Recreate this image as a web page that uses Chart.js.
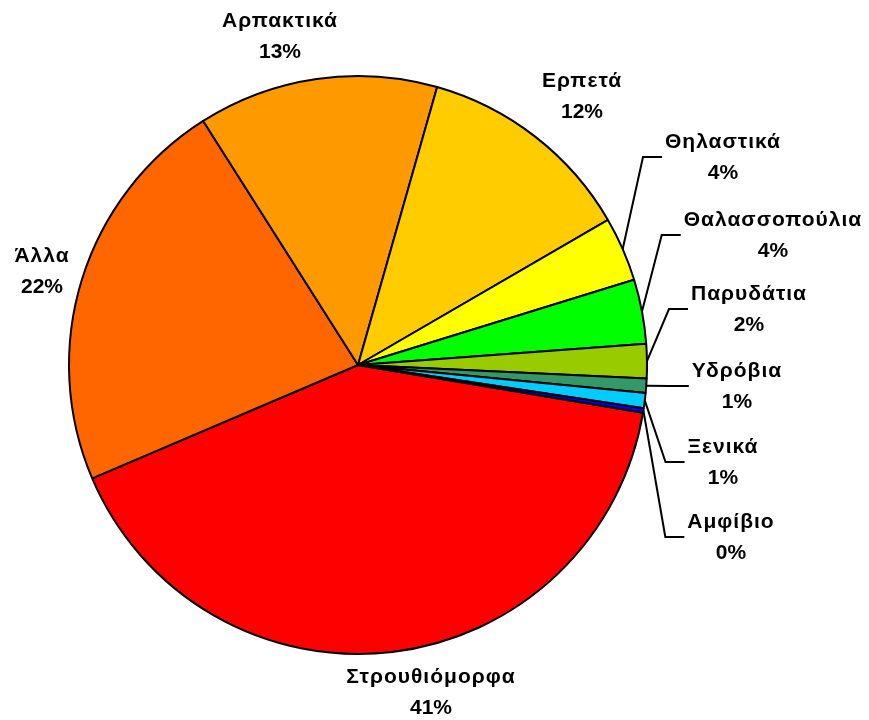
<!DOCTYPE html>
<html>
<head>
<meta charset="utf-8">
<script src="https://cdn.jsdelivr.net/npm/chart.js@4.4.1/dist/chart.umd.min.js"></script>
<style>
  html, body { margin: 0; padding: 0; background: #fff; }
  #wrap { width: 869px; height: 720px; }
</style>
</head>
<body>
<div id="wrap"><canvas id="pieChart" width="869" height="720"></canvas></div>
<script>
// κατηγορίες και ποσοστά (εκτίμηση από το γράφημα)
const categories = ['Στρουθιόμορφα', 'Άλλα', 'Αρπακτικά', 'Ερπετά', 'Θηλαστικά',
    'Θαλασσοπούλια', 'Παρυδάτια', 'Υδρόβια', 'Ξενικά', 'Αμφίβιο'];
const shares = [40.9, 22.4, 13.4, 12.2, 3.6, 3.6, 1.9, 0.8, 0.85, 0.25];
const sliceColors = ['#FF0000', '#FF6600', '#FF9900', '#FFCC00', '#FFFF00',
    '#00FF00', '#99CC00', '#339966', '#00CCFF', '#0000FF'];

// θέσεις ετικετών (κέντρο του κειμένου) και αν έχουν γραμμή οδηγό
const labelAt = [[431, 692], [42, 271], [280, 36], [582, 96], [723, 157],
    [773, 235], [749, 309], [737, 386], [723, 462], [731, 537]];
const hasLeader = [false, false, false, false, true, true, true, true, true, true];

const labelsPlugin = {
    id: 'pieLabels',
    afterDatasetsDraw(chart) {
        const ctx = chart.ctx;
        const meta = chart.getDatasetMeta(0);
        const total = shares.reduce((a, b) => a + b, 0);
        ctx.save();
        ctx.font = 'bold 21px "Liberation Sans", Arial, sans-serif';
        ctx.fillStyle = '#000';
        ctx.textAlign = 'center';
        ctx.textBaseline = 'middle';
        meta.data.forEach((arc, i) => {
            const [cx, cy] = labelAt[i];
            const pct = Math.round(shares[i] / total * 100) + '%';
            ctx.letterSpacing = '1px';
            const nameW = ctx.measureText(categories[i]).width;
            ctx.letterSpacing = '0px';
            const w = Math.max(nameW, ctx.measureText(pct).width);
            if (hasLeader[i]) {
                const mid = (arc.startAngle + arc.endAngle) / 2;
                const sx = arc.x + Math.cos(mid) * arc.outerRadius;
                const sy = arc.y + Math.sin(mid) * arc.outerRadius;
                const left = cx - w / 2 - 3;
                ctx.beginPath();
                ctx.moveTo(sx, sy);
                ctx.lineTo(left - 19, cy);
                ctx.lineTo(left, cy);
                ctx.lineWidth = 2;
                ctx.strokeStyle = '#000';
                ctx.stroke();
            }
            ctx.letterSpacing = '1px';
            ctx.fillText(categories[i], cx, cy - 15);
            ctx.letterSpacing = '0px';
            ctx.fillText(pct, cx, cy + 16);
        });
        ctx.restore();
    }
};

const config = {
    type: 'pie',
    data: {
        labels: categories,
        datasets: [{
            data: shares,
            backgroundColor: sliceColors,
            borderColor: '#000',
            borderWidth: 2
        }]
    },
    options: {
        responsive: false,
        animation: false,
        rotation: 99.5,
        layout: { padding: { left: 68, top: 75, right: 221, bottom: 65 } },
        plugins: {
            legend: { display: false },
            tooltip: { enabled: false }
        }
    },
    plugins: [labelsPlugin]
};

const ctx = document.getElementById('pieChart').getContext('2d');
new Chart(ctx, config);
</script>
</body>
</html>
